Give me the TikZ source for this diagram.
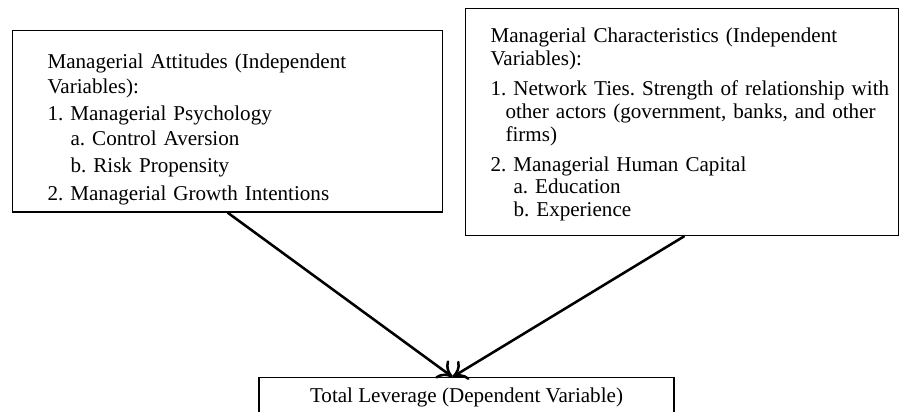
\documentclass[tikz,border=0pt]{standalone}
\usepackage{fontspec}
\setmainfont{Liberation Serif}
\frenchspacing
\usepackage{tikz}
\usetikzlibrary{arrows.meta, positioning}

\begin{document}
\begin{tikzpicture}[
    every node/.style={font=\fontsize{12pt}{14.2pt}\selectfont},
    varbox/.style={
        rectangle,
        draw=black,
        line width=0.6pt,
        align=left
    },
    arrow/.style={-{To[length=2.8mm, width=4.4mm]}, line width=1.45pt}
]
\useasboundingbox (0,0) rectangle (18.02,-8.24);

\node[varbox, anchor=north west, text width=7.2cm, inner xsep=0.7cm,
      minimum height=3.63cm] (attitudes) at (0.24,-0.6)
    {\rule{0pt}{0.62cm}Managerial Attitudes (Independent\\
     Variables):\\[1.7pt]
     1. Managerial Psychology\\
     \hspace*{0.46cm}a. Control Aversion\\[1.2pt]
     \hspace*{0.46cm}b. Risk Propensity\\[1.7pt]
     2. Managerial Growth Intentions};
\node[varbox, anchor=north west, text width=7.66cm, inner xsep=0.5cm,
      minimum height=4.54cm, font=\fontsize{12pt}{13pt}\selectfont] (traits) at (9.3,-0.16)
    {\rule{0pt}{0.4cm}Managerial Characteristics (Independent\\
     Variables):\\[4pt]
     \mbox{1. Network Ties. Strength of relationship with}\\
     \mbox{\hspace*{0.3cm}other actors (government, banks, and other}\\
     \hspace*{0.3cm}firms)\\[4pt]
     2. Managerial Human Capital\\
     \hspace*{0.46cm}a. Education\\
     \hspace*{0.46cm}b. Experience};
\node[varbox, anchor=north, minimum width=8.3cm, minimum height=0.8cm] (leverage) at (9.33,-7.54)
    {Total Leverage (Dependent Variable)};

% ARROWS
\draw[arrow] (attitudes.south) -- ([xshift=-0.28cm]leverage.north);
\draw[arrow] ([xshift=0.05cm]traits.south) -- ([xshift=-0.28cm]leverage.north);

\end{tikzpicture}
\end{document}
